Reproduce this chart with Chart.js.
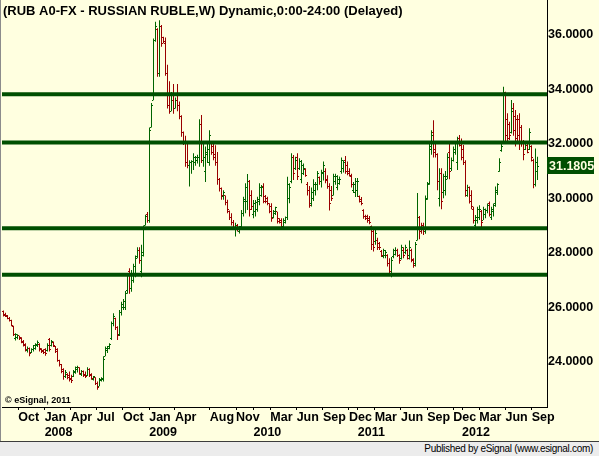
<!DOCTYPE html>
<html>
<head>
<meta charset="utf-8">
<script src="https://cdn.jsdelivr.net/npm/chart.js@4.4.1/dist/chart.umd.min.js"></script>
<style>
  html, body { margin: 0; padding: 0; background: #ffffe0; }
  #wrap { position: relative; width: 599px; height: 456px; overflow: hidden; }
  #edge { position: absolute; left: 0; top: 0; width: 1px; height: 441px; background: #8c8c8c; }
  #chart { position: absolute; left: 1px; top: 0; background: #ffffe0; }
  #footer {
    position: absolute; left: 0; top: 441px; width: 599px; height: 15px; box-sizing: border-box;
    border-top: 1px solid #3c3c3c; background: #ececec; color: #000;
    font: 10px "Liberation Sans", sans-serif; letter-spacing: -0.3px; line-height: 13px;
    text-align: right; padding-right: 6px;
  }
</style>
</head>
<body>
<div id="wrap">
  <div id="edge"></div>
  <canvas id="chart" width="598" height="441"></canvas>
  <div id="footer">Published by eSignal (www.esignal.com)</div>
</div>
<script>
// weekly bars of RUB A0-FX, first bar dated below
const firstWeek = '2007-08-10';

const opens = [
  25.85,25.75,25.70,25.60,25.50,25.30,24.85,24.90,24.95,24.88,
  24.75,24.62,24.40,24.50,24.35,24.45,24.50,24.60,24.65,24.48,
  24.40,24.45,24.40,24.80,24.60,24.72,24.56,24.45,24.05,23.90,
  23.70,23.45,23.55,23.50,23.40,23.45,23.60,23.70,23.78,23.52,
  23.65,23.55,23.50,23.70,23.52,23.35,23.42,23.20,23.10,23.30,
  23.35,24.20,24.40,24.50,24.85,25.40,25.60,25.25,25.00,25.80,
  26.00,26.00,26.60,27.30,26.70,27.00,27.20,27.85,28.10,27.30,
  27.90,29.00,29.40,29.20,32.60,33.60,35.80,36.20,34.60,36.30,
  35.90,35.70,34.60,33.40,33.20,33.60,33.30,33.60,33.40,33.00,
  32.40,32.10,31.30,31.20,31.30,31.35,31.30,31.40,31.50,32.70,
  31.40,31.00,31.60,31.30,32.00,31.90,31.60,31.30,30.70,30.35,
  30.05,30.10,29.85,29.50,29.30,29.10,28.90,29.00,28.80,28.95,
  29.45,29.90,29.90,30.60,30.10,29.40,29.50,29.60,29.90,30.10,
  30.45,30.05,30.00,29.80,29.70,29.30,29.45,29.50,29.25,29.20,
  28.95,29.10,29.30,30.00,30.60,31.50,31.10,31.50,31.10,30.70,
  30.90,31.05,30.50,30.30,29.80,30.00,30.30,30.50,30.75,30.60,
  30.90,31.00,30.70,30.45,30.30,30.10,30.60,30.40,30.55,31.00,
  31.10,31.40,31.20,31.00,30.80,30.30,30.20,30.30,30.05,29.95,
  29.55,29.35,29.35,29.25,28.95,28.80,28.40,28.45,28.35,28.05,
  27.85,27.90,27.90,27.60,27.20,27.85,27.95,28.10,27.90,27.80,
  28.10,28.00,28.10,27.90,28.10,27.75,27.60,28.45,29.30,28.90,
  29.00,28.80,30.00,30.55,31.80,32.40,31.80,31.60,30.00,30.90,
  30.20,30.30,30.80,31.70,31.10,31.40,31.70,31.30,32.20,32.00,
  31.80,31.30,30.10,30.40,30.10,29.60,29.00,29.20,29.30,29.50,
  29.20,29.40,29.55,29.80,29.30,29.50,29.80,30.20,31.00,31.75,
  32.10,33.90,32.90,32.70,32.40,33.30,33.00,32.90,32.90,32.60,
  32.10,31.80,31.95,31.80,31.90,31.40,30.50,31.00
];
const highs = [
  25.88,25.80,25.72,25.64,25.54,25.32,25.05,25.01,24.96,24.90,
  24.80,24.68,24.56,24.52,24.50,24.62,24.68,24.78,24.68,24.50,
  24.46,24.50,24.68,24.87,24.80,24.74,24.58,24.50,24.07,23.92,
  23.76,23.70,23.58,23.64,23.52,23.70,23.83,23.85,23.80,23.70,
  23.68,23.64,23.80,23.76,23.58,23.48,23.43,23.28,23.40,23.43,
  24.20,24.56,24.58,24.68,25.48,25.78,25.62,25.30,25.90,26.20,
  26.30,26.60,27.25,27.43,27.37,27.60,27.90,28.20,28.20,28.30,
  29.00,29.40,29.50,32.60,33.50,35.87,36.48,36.24,36.54,36.36,
  35.93,35.90,34.90,34.30,33.90,34.20,33.70,34.20,33.55,33.05,
  32.45,32.30,32.00,31.40,31.40,31.65,31.55,31.60,32.90,33.06,
  32.00,31.90,32.10,32.50,32.10,32.10,31.95,31.70,30.75,30.40,
  30.30,30.10,29.95,29.55,29.45,29.20,29.10,29.06,28.98,29.57,
  30.06,30.55,30.89,30.67,30.30,29.94,29.94,30.06,30.55,30.49,
  30.55,30.12,30.06,29.82,29.82,29.57,29.69,29.51,29.27,29.27,
  29.27,29.33,30.79,30.55,31.65,31.59,31.53,31.65,31.47,31.41,
  31.28,31.10,30.60,30.45,30.40,30.70,30.60,31.00,30.80,31.05,
  31.35,31.10,30.85,30.55,30.45,30.90,30.90,30.85,30.80,31.50,
  31.40,31.55,31.35,31.10,30.90,30.60,30.75,30.75,30.10,30.05,
  29.60,29.40,29.40,29.35,29.00,28.90,28.85,28.55,28.40,28.10,
  28.15,28.10,27.95,27.80,27.85,28.15,28.20,28.15,27.95,28.30,
  28.20,28.30,28.15,28.45,28.15,27.80,28.40,30.20,29.35,29.10,
  29.10,30.10,30.60,32.10,32.50,32.87,32.08,31.65,31.10,31.10,
  30.90,31.00,31.65,32.10,31.50,31.90,32.10,32.26,32.32,32.20,
  31.96,31.40,30.50,30.43,30.30,29.69,29.39,29.69,29.75,29.57,
  29.69,29.63,29.81,29.88,29.69,29.81,30.43,30.55,31.47,32.02,
  34.10,33.91,33.12,32.81,33.61,33.50,33.24,33.06,33.12,32.69,
  32.14,32.08,32.02,32.57,31.95,31.45,31.83,31.53
];
const lows = [
  25.66,25.64,25.56,25.48,25.30,24.95,24.78,24.83,24.80,24.68,
  24.56,24.38,24.34,24.20,24.32,24.38,24.44,24.54,24.38,24.32,
  24.29,24.22,24.38,24.38,24.56,24.54,24.32,24.00,23.83,23.58,
  23.34,23.40,23.36,23.28,23.22,23.44,23.56,23.61,23.52,23.48,
  23.44,23.40,23.48,23.44,23.34,23.31,23.15,22.97,23.10,23.28,
  23.28,24.20,24.32,24.46,24.80,25.30,25.17,24.80,24.95,25.70,
  25.90,25.90,26.50,26.50,26.57,26.90,27.10,27.80,27.60,27.10,
  27.86,29.00,29.10,29.10,32.60,33.60,35.75,34.46,34.46,35.56,
  35.69,34.50,33.30,33.10,33.20,33.10,33.30,33.20,32.90,32.26,
  31.96,31.16,31.10,30.43,30.90,31.04,31.20,31.28,31.16,31.30,
  31.16,30.60,31.30,31.20,31.60,31.40,31.20,30.50,30.25,29.95,
  29.95,29.75,29.45,29.20,29.00,28.85,28.60,28.78,28.71,28.84,
  29.33,29.45,29.57,29.33,29.57,29.27,29.33,29.51,29.75,30.06,
  29.82,29.82,29.75,29.45,29.14,29.27,29.39,29.08,29.08,28.84,
  28.93,29.08,29.20,29.82,30.55,30.67,31.04,30.67,31.04,30.55,
  30.86,30.79,30.10,29.65,29.70,29.90,30.10,30.30,30.50,30.40,
  30.65,30.55,30.35,29.55,29.90,30.10,30.50,30.30,30.50,30.90,
  30.95,30.90,30.85,30.80,30.40,30.20,30.05,30.05,29.85,29.75,
  29.25,29.20,29.10,29.05,28.10,28.05,28.30,28.10,28.10,27.85,
  27.80,27.80,27.50,27.15,27.10,27.80,27.90,27.85,27.60,27.75,
  27.80,27.95,27.75,27.75,27.65,27.45,27.50,28.45,28.50,28.70,
  28.65,28.70,29.95,30.50,31.60,31.50,31.50,30.30,29.70,29.60,
  30.00,30.10,30.70,30.70,31.00,31.35,31.60,31.04,31.90,31.40,
  31.22,30.06,30.06,29.81,29.60,29.08,28.84,29.08,29.20,28.84,
  29.20,29.27,29.45,29.33,29.20,29.33,29.69,30.12,30.98,31.71,
  32.02,32.02,32.08,32.14,32.38,32.30,31.90,32.02,31.77,31.89,
  31.40,31.77,31.65,31.77,31.35,30.37,30.43,30.67
];
const closes = [
  25.70,25.68,25.60,25.50,25.35,25.00,25.00,24.98,24.85,24.72,
  24.60,24.45,24.50,24.30,24.45,24.58,24.62,24.72,24.45,24.38,
  24.34,24.30,24.60,24.45,24.75,24.58,24.38,24.05,23.90,23.65,
  23.45,23.60,23.42,23.35,23.30,23.65,23.78,23.80,23.58,23.66,
  23.50,23.45,23.72,23.50,23.40,23.45,23.20,23.05,23.35,23.40,
  24.10,24.50,24.55,24.62,25.40,25.65,25.25,24.95,25.80,26.10,
  26.20,26.50,27.20,26.70,27.20,27.50,27.80,28.10,27.70,28.00,
  28.90,29.35,29.20,32.50,33.40,35.80,36.30,34.60,36.30,35.70,
  35.75,34.60,33.40,33.20,33.60,33.30,33.60,33.40,33.00,32.40,
  32.10,31.30,31.20,31.30,31.35,31.50,31.50,31.50,32.70,31.40,
  31.50,31.70,31.80,32.30,31.70,31.50,31.30,30.70,30.35,30.10,
  30.20,29.85,29.60,29.30,29.10,28.90,29.00,28.85,28.95,29.45,
  29.95,30.40,30.60,29.60,29.70,29.80,29.85,29.95,30.40,30.40,
  29.90,29.90,29.80,29.50,29.25,29.50,29.65,29.15,29.12,28.90,
  29.20,29.30,30.50,30.40,31.50,30.90,31.40,30.80,31.35,31.20,
  31.10,30.85,30.30,29.75,30.20,30.50,30.50,30.90,30.60,30.95,
  31.20,30.65,30.45,29.80,30.00,30.80,30.80,30.70,30.70,31.40,
  31.30,31.00,30.90,30.85,30.50,30.50,30.60,30.60,29.90,29.80,
  29.35,29.25,29.20,29.10,28.30,28.20,28.70,28.20,28.20,27.90,
  28.10,28.00,27.60,27.30,27.70,28.10,28.10,27.90,27.70,28.20,
  27.90,28.20,27.80,28.20,27.70,27.55,28.30,29.30,28.80,28.85,
  28.80,29.95,30.50,31.90,32.30,31.70,31.60,30.60,30.90,29.90,
  30.80,30.70,31.50,31.00,31.40,31.80,32.00,32.10,31.95,31.50,
  31.30,30.30,30.40,29.90,29.70,29.20,29.30,29.60,29.60,29.10,
  29.60,29.55,29.75,29.40,29.60,29.75,30.30,30.50,31.30,31.90,
  33.90,32.30,32.20,32.30,33.20,32.50,32.20,32.30,32.00,32.00,
  31.60,32.00,31.70,32.40,31.50,30.50,31.30,31.1805
];

// support / resistance lines
const levels = [33.82, 32.05, 28.90, 27.19];

// axis ticks
const yTicks = [24, 26, 28, 30, 32, 34, 36];
const tickDates = ['2007-10-01','2008-01-01','2008-04-01','2008-07-01','2008-10-01','2009-01-01','2009-04-01',
  '2009-08-01','2009-11-01','2010-01-01','2010-03-01','2010-06-01','2010-09-01','2010-12-01','2011-01-01',
  '2011-03-01','2011-06-01','2011-09-01','2011-12-01','2012-01-01','2012-03-01','2012-06-01','2012-09-01'];
const tickMonths = ['Oct','Jan','Apr','Jul','Oct','Jan','Apr','Aug','Nov','','Mar','Jun','Sep','Dec','',
  'Mar','Jun','Sep','Dec','','Mar','Jun','Sep'];
const tickYears = ['','2008','','','','2009','','','','2010','','','','','2011','','','','','2012','','',''];

const title = '(RUB A0-FX - RUSSIAN RUBLE,W) Dynamic,0:00-24:00 (Delayed)';
const copyright = '\u00a9 eSignal, 2011';

const GREEN = '#006400', RED = '#990000', LEVEL = '#004f00', CREAM = '#ffffe0';
const FONT = '"Liberation Sans", Arial, sans-serif';
const xMin = -0.75, xMax = 271.75, yMin = 22.34, yMax = 37.28;

const weekOf = d => (Date.parse(d) - Date.parse(firstWeek)) / (7 * 864e5);
const tickPos = tickDates.map(weekOf);
const barColors = closes.map((c, i) => c >= opens[i] ? GREEN : RED);

// open tick left, close tick right of each high-low bar
const ohlcTicks = {
  id: 'ohlcTicks',
  afterDatasetDraw(chart, args) {
    if (args.index !== 0) return;
    const { ctx, scales: { x, y } } = chart;
    ctx.save();
    closes.forEach((c, i) => {
      const px = Math.round(x.getPixelForValue(i) - 0.5);
      ctx.fillStyle = barColors[i];
      ctx.fillRect(px - 1, Math.round(y.getPixelForValue(opens[i]) - 0.5), 1, 1);
      ctx.fillRect(px + 1, Math.round(y.getPixelForValue(c) - 0.5), 1, 1);
    });
    ctx.restore();
  }
};

const overlay = {
  id: 'overlay',
  afterDraw(chart) {
    const { ctx, chartArea, scales: { y } } = chart;
    ctx.save();
    ctx.fillStyle = '#000';
    ctx.textBaseline = 'alphabetic';
    ctx.font = 'bold 13px ' + FONT;
    ctx.fillText(title, 2, 15);
    ctx.font = 'bold 9px ' + FONT;
    ctx.textBaseline = 'middle';
    ctx.fillText(copyright, 4, 401);
    // last price marker
    const last = closes[closes.length - 1];
    const py = y.getPixelForValue(last);
    ctx.fillStyle = LEVEL;
    ctx.fillRect(chartArea.right, Math.round(py - 9), 47, 17);
    ctx.fillStyle = CREAM;
    ctx.font = 'bold 12.5px ' + FONT;
    ctx.fillText(last.toFixed(4), chartArea.right + 2, py);
    ctx.restore();
  }
};

const axisFont = { family: FONT, size: 12.5, weight: 'bold' };

new Chart(document.getElementById('chart'), {
  type: 'bar',
  data: {
    datasets: [
      {
        type: 'bar',
        data: closes.map((c, i) => ({ x: i, y: [lows[i], highs[i]] })),
        backgroundColor: barColors,
        barThickness: 1,
        borderWidth: 0,
        inflateAmount: 0,
        order: 1
      },
      ...levels.map(v => ({
        type: 'line',
        data: [{ x: xMin, y: v }, { x: xMax, y: v }],
        borderColor: LEVEL,
        borderWidth: 4,
        pointRadius: 0,
        order: 0
      }))
    ]
  },
  options: {
    responsive: false,
    animation: false,
    devicePixelRatio: 1,
    layout: { padding: { left: 1, top: 0, right: 0, bottom: 0 } },
    plugins: { legend: { display: false }, tooltip: { enabled: false } },
    scales: {
      x: {
        type: 'linear', position: 'bottom', min: xMin, max: xMax, offset: false,
        afterBuildTicks: s => { s.ticks = tickPos.map(value => ({ value })); },
        afterFit: s => { s.height = 34; s.paddingLeft = 0; s.paddingRight = 0; },
        grid: { offset: false, drawOnChartArea: false, drawTicks: true, tickLength: 3, color: '#000' },
        border: { display: true, color: '#000', width: 1 },
        ticks: {
          autoSkip: false, maxRotation: 0, minRotation: 0, align: 'start', padding: 0,
          color: '#000', font: axisFont,
          callback: (v, i) => [tickMonths[i], tickYears[i]]
        }
      },
      y: {
        type: 'linear', position: 'right', min: yMin, max: yMax, beginAtZero: false,
        afterBuildTicks: s => { s.ticks = yTicks.map(value => ({ value })); },
        afterFit: s => { s.width = 52; s.paddingTop = 0; s.paddingBottom = 0; },
        grid: { drawOnChartArea: false, drawTicks: false },
        border: { display: true, color: '#000', width: 1 },
        ticks: { padding: 1, color: '#000', font: axisFont, callback: v => v.toFixed(4) }
      }
    }
  },
  plugins: [ohlcTicks, overlay]
});
</script>
</body>
</html>
